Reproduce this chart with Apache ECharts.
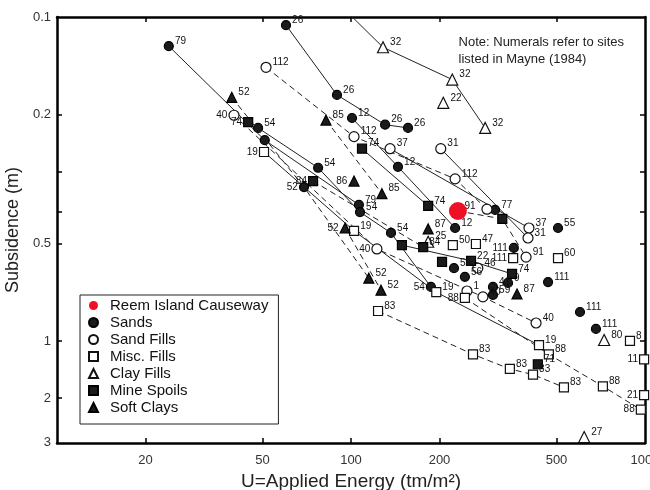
<!DOCTYPE html>
<html>
<head>
<meta charset="utf-8">
<script src="https://cdn.jsdelivr.net/npm/echarts@6/dist/echarts.min.js"></script>
<style>
  html, body { margin: 0; padding: 0; background: #fff; }
  #chart { width: 650px; height: 490px; }
</style>
</head>
<body>
<div id="chart"></div>
<script>
// axis ticks
var xTickValues = [20, 50, 100, 200, 500, 1000];
var xInnerTicks = [20, 50, 100, 200, 500];
var yTickValues = [0.1, 0.2, 0.5, 1, 1.5, 2.06];
var yTickLabels = ['0.1', '0.2', '0.5', '1', '2', '3'];
var yInnerTicks = [0.2, 0.3, 0.4, 0.5, 1, 1.5];

// rows: [applied energy tm/m2, subsidence m, site no., chain]
var reem = [[231, 0.397]];

var sands = [
  [24.0, 0.123, '79', '79'], [60.1, 0.106, '26', '26'], [89.6, 0.174, '26', '26'],
  [130.6, 0.215, '26', '26'], [156.3, 0.220, '26', '26'], [48.3, 0.220, '54', '54'],
  [50.9, 0.240, '', '79'], [100.8, 0.205, '12', '12'], [144.5, 0.290, '12', '12'],
  [77.3, 0.292, '54', '54'], [69.2, 0.335, '52', '52'], [106.4, 0.380, '79', '79'],
  [107.3, 0.400, '54', '54'], [136.8, 0.464, '54', '54'], [226, 0.448, '12', '12'],
  [309, 0.394, '77', ''], [506, 0.448, '55', ''], [358, 0.516, '111', ''],
  [224, 0.596, '56', ''], [244, 0.634, '56', ''], [187, 0.681, '54', '54'],
  [342, 0.662, '9', ''], [468, 0.658, '111', ''], [304, 0.681, '41', ''],
  [304, 0.721, '59', ''], [601, 0.814, '111', ''], [681, 0.918, '111', '']
];

var sandFills = [
  [51.4, 0.143, '112', '112'], [40.0, 0.201, '40', '40'], [102.4, 0.234, '112', '112'],
  [135.8, 0.255, '37', '37'], [202, 0.255, '31', '31'], [226, 0.316, '112', '112'],
  [290, 0.392, '', '112'], [403, 0.448, '37', '37'], [400, 0.481, '31', '31'],
  [122.5, 0.520, '40', '40'], [394, 0.551, '91', '91'], [270, 0.596, '46', ''],
  [248, 0.701, '1', ''], [281, 0.731, '40', '40'], [426, 0.880, '40', '40'],
  [231, 0.397, '91', '91']
];

var miscFills = [
  [50.6, 0.261, '19', '19'], [102.4, 0.457, '19', '19'], [222, 0.506, '50', ''],
  [266, 0.502, '47', ''], [356, 0.555, '111', ''], [506, 0.555, '60', ''],
  [195, 0.707, '19', '19'], [244, 0.736, '88', '88'], [123.6, 0.808, '83', '83'],
  [436, 1.03, '19', '19'], [471, 1.10, '88', '88'], [260, 1.10, '83', '83'],
  [347, 1.22, '83', '83'], [416, 1.27, '83', '83'], [530, 1.39, '83', '83'],
  [719, 1.38, '88', '88'], [968, 1.63, '88', '88'], [889, 1.00, '8', ''],
  [993, 1.14, '11', ''], [993, 1.47, '21', '']
];

var clayFills = [
  [92, 0.092, '', '32'], [128.5, 0.124, '32', '32'], [221, 0.156, '32', '32'],
  [206, 0.184, '22', ''], [286, 0.220, '32', '32'], [183, 0.494, '25', ''],
  [726, 0.993, '80', ''], [621, 1.98, '27', '']
];

var mineSpoils = [
  [44.7, 0.211, '74', ''], [109, 0.255, '74', '74'], [74.3, 0.321, '84', '84'],
  [183, 0.383, '74', '74'], [149, 0.506, '', '22'], [176, 0.513, '84', '84'],
  [327, 0.420, '', '91'], [204, 0.570, '', ''], [256, 0.566, '22', '22'],
  [353, 0.621, '74', '22'], [432, 1.18, '71', '']
];

var softClays = [
  [39.3, 0.177, '52', '52'], [82.2, 0.208, '85', '85'], [102.4, 0.321, '86', ''],
  [127.4, 0.351, '85', '85'], [95.5, 0.448, '52', '52b'], [183, 0.451, '87', ''],
  [115, 0.640, '52', '52'], [126.5, 0.697, '52', '52b'], [367, 0.716, '87', '']
];

var dashedChains = ['112', '40', '52', '52b', '88', '83', '85', '84', '91'];
var leftLabelKeys = ['Sands:10', 'Sands:17', 'Sands:20', 'Sand Fills:1', 'Sand Fills:9',
  'Misc. Fills:0', 'Misc. Fills:4', 'Misc. Fills:7', 'Misc. Fills:16', 'Misc. Fills:18',
  'Misc. Fills:19', 'Mine Spoils:0', 'Mine Spoils:2', 'Soft Clays:2', 'Soft Clays:4'];

var groups = [
  { name: 'Sands', rows: sands, symbol: 'circle', size: 9, fill: '#1b1b1b', border: '#000' },
  { name: 'Sand Fills', rows: sandFills, symbol: 'circle', size: 10, fill: '#fff', border: '#111' },
  { name: 'Misc. Fills', rows: miscFills, symbol: 'rect', size: 9, fill: '#fff', border: '#111' },
  { name: 'Clay Fills', rows: clayFills, symbol: 'triangle', size: 11, fill: '#fff', border: '#111' },
  { name: 'Mine Spoils', rows: mineSpoils, symbol: 'rect', size: 9, fill: '#1b1b1b', border: '#000' },
  { name: 'Soft Clays', rows: softClays, symbol: 'triangle', size: 10, fill: '#1b1b1b', border: '#000' }
];

var FONT = 'Liberation Sans, Arial, sans-serif';

// collect chains across all groups
var chains = {};
groups.forEach(function (g) {
  g.rows.forEach(function (r) {
    if (!r[3]) return;
    (chains[r[3]] = chains[r[3]] || []).push([r[0], r[1]]);
  });
});

var series = [];
Object.keys(chains).forEach(function (key) {
  var pts = chains[key].slice().sort(function (a, b) { return a[0] - b[0]; });
  series.push({
    type: 'line',
    name: 'site ' + key,
    data: pts,
    symbol: 'none',
    silent: true,
    z: 1,
    lineStyle: {
      color: '#222',
      width: 1,
      type: dashedChains.indexOf(key) >= 0 ? [6, 4] : 'solid'
    }
  });
});

groups.forEach(function (g) {
  series.push({
    type: 'scatter',
    name: g.name,
    symbol: g.symbol,
    symbolSize: g.size,
    z: 3,
    itemStyle: { color: g.fill, borderColor: g.border, borderWidth: 1.2, opacity: 1 },
    label: {
      show: true,
      position: 'right',
      distance: 1,
      offset: [0, -5],
      fontSize: 10,
      fontFamily: FONT,
      color: '#111',
      formatter: function (p) { return p.data.value[2]; }
    },
    data: g.rows.map(function (r, i) {
      var item = { value: r };
      if (leftLabelKeys.indexOf(g.name + ':' + i) >= 0) {
        item.label = { position: 'left', offset: [0, 0] };
      }
      return item;
    })
  });
});

series.push({
  type: 'scatter',
  name: 'Reem Island Causeway',
  symbol: 'circle',
  symbolSize: 18,
  z: 5,
  itemStyle: { color: '#ee1125', opacity: 1 },
  data: reem
});

var chart = echarts.init(document.getElementById('chart'));
chart.setOption({
  animation: false,
  backgroundColor: '#fff',
  grid: { left: 57, right: 5, top: 17, bottom: 47, outerBoundsMode: 'none', containLabel: false },
  legend: {
    data: ['Reem Island Causeway', 'Sands', 'Sand Fills', 'Misc. Fills', 'Clay Fills', 'Mine Spoils', 'Soft Clays'],
    orient: 'vertical',
    left: 80,
    top: 295,
    itemWidth: 9,
    itemHeight: 9,
    itemGap: 0,
    padding: [2, 10, 8, 8],
    backgroundColor: '#fff',
    borderColor: '#222',
    borderWidth: 1,
    borderRadius: 0,
    textStyle: { fontSize: 15, fontFamily: FONT, color: '#111', lineHeight: 17, padding: [0, 0, 0, 7] }
  },
  xAxis: [{
    type: 'log',
    min: 10,
    max: 1000,
    position: 'bottom',
    name: 'U=Applied Energy (tm/m²)',
    nameLocation: 'middle',
    nameGap: 22,
    nameTextStyle: { fontSize: 19, fontFamily: FONT, color: '#222' },
    axisLine: { lineStyle: { color: '#000', width: 2.5 } },
    axisTick: { inside: true, length: 5, customValues: xInnerTicks, lineStyle: { color: '#000', width: 1.5 } },
    axisLabel: {
      customValues: xTickValues, fontSize: 13, fontFamily: FONT, color: '#333', margin: 11,
      formatter: function (v) { return String(Math.round(v)); }
    },
    splitLine: { show: false }
  }, {
    type: 'log',
    min: 10,
    max: 1000,
    position: 'top',
    axisLine: { lineStyle: { color: '#000', width: 2.5 } },
    axisTick: { inside: true, length: 5, customValues: xInnerTicks, lineStyle: { color: '#000', width: 1.5 } },
    axisLabel: { show: false },
    splitLine: { show: false }
  }],
  yAxis: [{
    type: 'log',
    min: 0.1,
    max: 2.065,
    inverse: true,
    position: 'left',
    name: 'Subsidence (m)',
    nameLocation: 'middle',
    nameRotate: 90,
    nameGap: 30,
    nameTextStyle: { fontSize: 18, fontFamily: FONT, color: '#222' },
    axisLine: { lineStyle: { color: '#000', width: 2.5 } },
    axisTick: { inside: true, length: 5, customValues: yInnerTicks, lineStyle: { color: '#000', width: 1.5 } },
    axisLabel: {
      customValues: yTickValues,
      fontSize: 13,
      fontFamily: FONT,
      color: '#333',
      margin: 6,
      formatter: function (v) {
        var best = 0;
        yTickValues.forEach(function (t, i) {
          if (Math.abs(t - v) < Math.abs(yTickValues[best] - v)) best = i;
        });
        return yTickLabels[best];
      }
    },
    splitLine: { show: false }
  }, {
    type: 'log',
    min: 0.1,
    max: 2.065,
    inverse: true,
    position: 'right',
    axisLine: { lineStyle: { color: '#000', width: 2.5 } },
    axisTick: { inside: true, length: 5, customValues: yInnerTicks, lineStyle: { color: '#000', width: 1.5 } },
    axisLabel: { show: false },
    splitLine: { show: false }
  }],
  graphic: [{
    type: 'text',
    right: 26,
    top: 34,
    style: {
      text: 'Note: Numerals refer to sites\nlisted in Mayne (1984)',
      align: 'right',
      fontSize: 13,
      lineHeight: 17,
      fontFamily: FONT,
      fill: '#222'
    }
  }],
  series: series
});
</script>
</body>
</html>
